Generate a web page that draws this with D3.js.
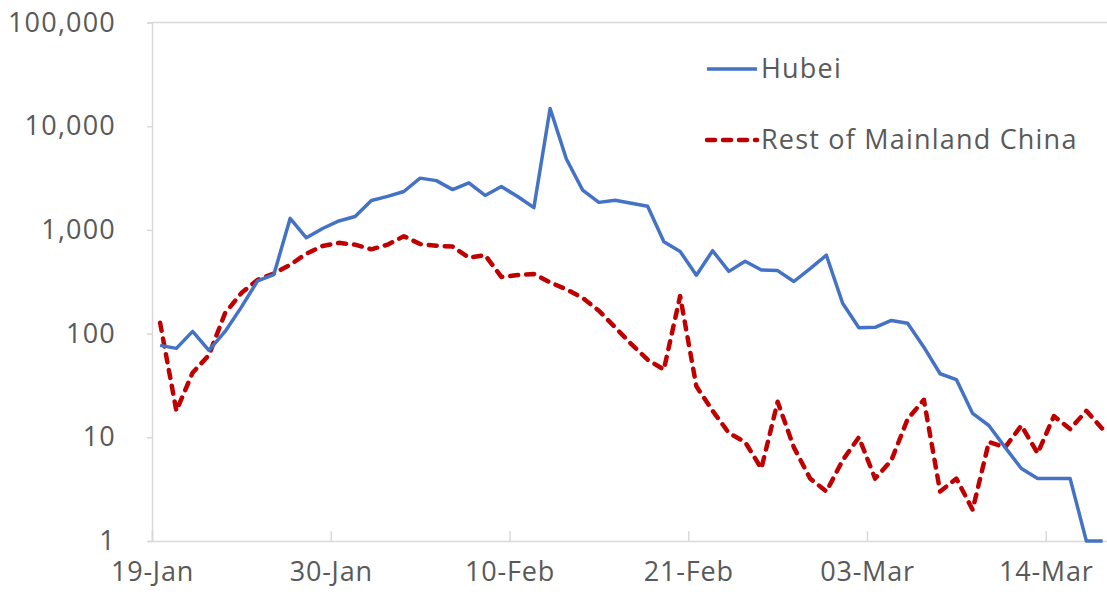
<!DOCTYPE html>
<html>
<head>
<meta charset="utf-8">
<script src="https://cdn.jsdelivr.net/npm/d3@7"></script>
<style>
  body { margin: 0; background: #fff; }
  svg { display: block; }
  text { font-family: "Open Sans", sans-serif; fill: #595959; }
</style>
</head>
<body>
<script>
// Daily new confirmed cases, one value per day starting 19-Jan
const startDate = "2020-01-19";
const hubei = [77, 72, 105, 69, 105, 180, 323, 371, 1291, 840,
    1032, 1220, 1347, 1921, 2103, 2345, 3156, 2987, 2447, 2841,
    2147, 2618, 2097, 1638, 14840, 4823, 2420, 1843, 1933, 1807,
    1693, 770, 620, 366, 630, 398, 499, 411, 405, 318,
    423, 570, 196, 114, 115, 134, 126, 74, 41, 36,
    17, 13, 8, 5, 4, 4, 4, 1, 1];
const restOfChina = [127, 18, 42, 62, 158, 246, 330, 380, 460, 590,
    700, 750, 720, 650, 720, 870, 730, 705, 690, 540,
    570, 352, 367, 376, 312, 267, 221, 166, 115, 79,
    56, 45, 230, 31, 18, 11, 9, 5, 22, 8,
    4, 3, 6, 10, 4, 6, 15, 23, 3, 4,
    2, 9, 8, 13, 7, 16, 12, 18, 12];
const seriesNames = ["Hubei", "Rest of Mainland China"];
const xTickDates = ["2020-01-19", "2020-01-30", "2020-02-10", "2020-02-21", "2020-03-03", "2020-03-14"];
const yTicks = [1, 10, 100, 1000, 10000, 100000];

const parse = d3.utcParse("%Y-%m-%d");
const start = parse(startDate);
const days = d3.utcDay.range(start, d3.utcDay.offset(start, hubei.length));

const width = 1107, height = 604;
const margin = { top: 22.5, left: 152, bottom: 63 };
const dayWidth = 16.25;
const fontSize = "27px";

const svg = d3.select("body").append("svg")
    .attr("width", width)
    .attr("height", height);

// Date axis: each day gets a slot, points sit in the middle of it
const x = d3.scaleUtc()
    .domain([start, d3.utcDay.offset(start, days.length)])
    .range([margin.left, margin.left + days.length * dayWidth]);

const y = d3.scaleLog()
    .domain([1, 100000])
    .range([height - margin.bottom, margin.top]);

const mid = d => d3.utcHour.offset(d, 12);

// Top border line
svg.append("line")
    .attr("x1", margin.left).attr("x2", width)
    .attr("y1", y(100000)).attr("y2", y(100000))
    .attr("stroke", "#d9d9d9").attr("stroke-width", 1.5);

// Y axis
const yAxis = svg.append("g")
    .attr("transform", `translate(${margin.left},0)`)
    .call(d3.axisLeft(y).tickValues(yTicks).tickFormat(d3.format(",")).tickSize(5).tickPadding(31));
yAxis.select(".domain").attr("stroke", "#d9d9d9").attr("stroke-width", 1.5);
yAxis.selectAll(".tick line").attr("stroke", "#d9d9d9").attr("stroke-width", 1.5);
yAxis.selectAll("text")
    .style("font-size", fontSize)
    .style("letter-spacing", "1.2px")
    .attr("fill", "#595959")
    .attr("font-family", "Open Sans");

// X axis
const xAxis = svg.append("g")
    .attr("transform", `translate(0,${y(1)})`)
    .call(d3.axisBottom(x).tickValues(xTickDates.map(parse)).tickFormat(d3.utcFormat("%d-%b")).tickSize(-10).tickPadding(21));
xAxis.select(".domain").attr("stroke", "#d9d9d9").attr("stroke-width", 1.5);
xAxis.selectAll(".tick line").attr("stroke", "#d9d9d9").attr("stroke-width", 1.5);
xAxis.selectAll("text")
    .style("font-size", fontSize)
    .style("letter-spacing", "0.8px")
    .attr("fill", "#595959")
    .attr("font-family", "Open Sans");

const line = d3.line()
    .x((d, i) => x(mid(days[i])))
    .y(d => y(d));

// Rest of Mainland China - red dashed
svg.append("path")
    .datum(restOfChina)
    .attr("d", line)
    .attr("fill", "none")
    .attr("stroke", "#C00000")
    .attr("stroke-width", 4.5)
    .attr("stroke-dasharray", "8,8")
    .attr("stroke-linecap", "round")
    .attr("stroke-linejoin", "round");

// Hubei - blue solid
svg.append("path")
    .datum(hubei)
    .attr("d", line)
    .attr("fill", "none")
    .attr("stroke", "#4472C4")
    .attr("stroke-width", 3.5)
    .attr("stroke-linejoin", "round");

// Legend
const legend = svg.append("g").attr("transform", "translate(707,69)");
const styles = [
    { color: "#4472C4", dash: null, w: 3.5 },
    { color: "#C00000", dash: "8,8", w: 4.5 }
];
seriesNames.forEach((name, i) => {
    const g = legend.append("g").attr("transform", `translate(0,${i * 71})`);
    g.append("line")
        .attr("x1", 0).attr("x2", 50)
        .attr("stroke", styles[i].color)
        .attr("stroke-width", styles[i].w)
        .attr("stroke-dasharray", styles[i].dash)
        .attr("stroke-linecap", styles[i].dash ? "round" : "butt");
    g.append("text")
        .attr("x", 54)
        .attr("dy", "0.35em")
        .style("font-size", fontSize)
        .style("letter-spacing", "1.2px")
        .text(name);
});
</script>
</body>
</html>
